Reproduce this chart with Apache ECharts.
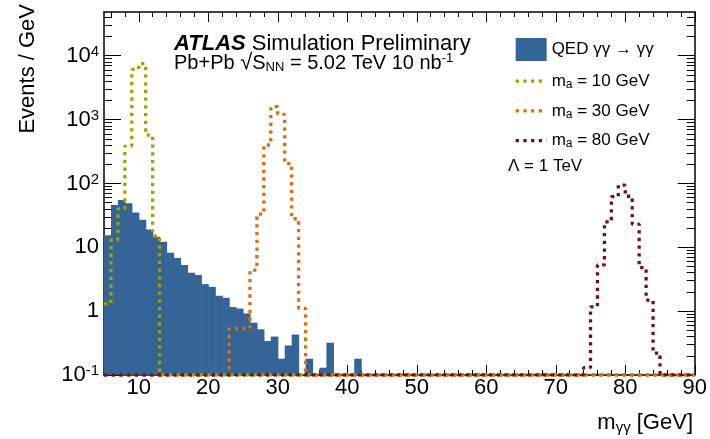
<!DOCTYPE html>
<html>
<head>
<meta charset="utf-8">
<script src="https://cdn.jsdelivr.net/npm/echarts@6/dist/echarts.min.js"></script>
<style>
  html, body { margin: 0; padding: 0; background: #ffffff; }
  #chart { width: 710px; height: 439px; }
</style>
</head>
<body>
<div id="chart"></div>
<script>
// Diphoton invariant mass spectrum, 1 GeV bins between 5 and 90 GeV
const xMin = 5;
const xMax = 90;
const yMin = 0.1;
const yMax = 48400;

// QED light-by-light background, first bin starts at 5 GeV (0 = empty bin)
const qedFirstBin = 5;
const qedCounts = [15.5, 46, 55, 49, 35, 27, 19, 14.6, 12.2, 8.2,
                   6.8, 5.3, 4.0, 3.7, 2.65, 2.4, 1.74, 1.62, 1.16, 1.10,
                   0.92, 0.66, 0.52, 0.34, 0.40, 0.18, 0.29, 0.43, 0, 0.18,
                   0, 0.13, 0.32, 0, 0, 0, 0.18];

// ALP signal samples, Lambda = 1 TeV
const sig10FirstBin = 5;
const sig10Counts = [1.3, 13, 40, 385, 6100, 7500, 570, 15];
const sig30FirstBin = 23;
const sig30Counts = [0.53, 0.53, 0.53, 4.4, 33, 400, 1590, 1210, 205, 28, 1.1];
const sig80FirstBin = 74;
const sig80Counts = [0.13, 1.17, 5.3, 25, 62, 94, 63, 23, 4.8, 1.49, 0.22];

// Axis ticks
const xTickValues = [10, 20, 30, 40, 50, 60, 70, 80, 90];
const yTickValues = [0.1, 1, 10, 100, 1000, 10000];
const yTickLabels = ['10^-1', '1', '10', '10^2', '10^3', '10^4'];

const FONT = 'Liberation Sans, Arial, Helvetica, sans-serif';
const BLUE = '#356597';
const OLIVE = '#a5a200';
const ORANGE = '#de6c08';
const DARKRED = '#7c0c0c';
const DOTS = [3.3, 4.4];

// bar rectangles for the filled histogram: [low edge, high edge, content]
function barData(first, counts) {
  const out = [];
  counts.forEach((c, i) => { if (c > 0) out.push([first + i, first + i + 1, c]); });
  return out;
}

// step outline over the full range; empty bins sit on the axis floor
function stepData(first, counts) {
  const nb = xMax - xMin;
  const full = new Array(nb).fill(0);
  counts.forEach((c, i) => { full[first - xMin + i] = c; });
  const pts = full.map((c, i) => [xMin + i, Math.max(c, yMin)]);
  pts.push([xMax, Math.max(full[nb - 1], yMin)]);
  return pts;
}

const xMinor = [];
for (let v = 6; v < xMax; v += 2) if (v % 10 !== 0) xMinor.push(v);
const yMinor = [];
for (let e = -1; e <= 4; e++) for (let k = 2; k <= 9; k++) {
  const v = k * Math.pow(10, e);
  if (v < yMax) yMinor.push(v);
}

function supRich(s) {
  const m = s.match(/^(.*)\^(.*)$/);
  return m ? '{b|' + m[1] + '}{s|' + m[2] + '}' : '{b|' + s + '}';
}

const tickColor = '#000';
function xAxisDef(pos, major, showLabel) {
  return {
    type: 'value', position: pos, min: xMin, max: xMax,
    axisLine: { show: major, onZero: false, lineStyle: { color: '#000', width: 1.5 } },
    splitLine: { show: false },
    axisTick: { show: true, inside: true, length: major ? 10 : 5,
      customValues: major ? xTickValues : xMinor, lineStyle: { color: tickColor, width: 1 } },
    axisLabel: { show: showLabel, customValues: xTickValues, margin: 2,
      fontFamily: FONT, fontSize: 22, color: '#000' }
  };
}
function yAxisDef(pos, major, showLabel) {
  return {
    type: 'log', logBase: 10, position: pos, min: yMin, max: yMax,
    axisLine: { show: major, onZero: false, lineStyle: { color: '#000', width: 1.5 } },
    splitLine: { show: false },
    axisTick: { show: true, inside: true, length: major ? 17 : 8,
      customValues: major ? yTickValues : yMinor, lineStyle: { color: tickColor, width: 1 } },
    axisLabel: { show: showLabel, customValues: yTickValues, margin: 5,
      formatter: v => supRich(yTickLabels[Math.round(Math.log10(v)) + 1]),
      rich: {
        b: { fontFamily: FONT, fontSize: 22, color: '#000' },
        s: { fontFamily: FONT, fontSize: 15, color: '#000', verticalAlign: 'top', padding: [0, 0, 8, 0] }
      } }
  };
}

const legendRich = {
  t: { fontFamily: FONT, fontSize: 17, color: '#000' },
  sub: { fontFamily: FONT, fontSize: 12, color: '#000', verticalAlign: 'bottom', padding: [7, 0, 0, 0] }
};
const hiddenSymbol = { opacity: 0, borderWidth: 0 };
const legendDots = { width: 3.3, type: DOTS, cap: 'butt' };

const chart = echarts.init(document.getElementById('chart'), null, { renderer: 'canvas' });
chart.setOption({
  animation: false,
  backgroundColor: '#fff',
  grid: { left: 104, top: 12, width: 591, height: 363, containLabel: false },
  xAxis: [
    xAxisDef('bottom', true, true),
    xAxisDef('bottom', false, false),
    xAxisDef('top', true, false),
    xAxisDef('top', false, false)
  ],
  yAxis: [
    yAxisDef('left', true, true),
    yAxisDef('left', false, false),
    yAxisDef('right', true, false),
    yAxisDef('right', false, false)
  ],
  legend: {
    orient: 'vertical', left: 514, top: 38, padding: 0,
    itemWidth: 31, itemHeight: 23, itemGap: 11,
    selectedMode: false,
    data: [
      { name: 'QED γγ → γγ', icon: 'rect' },
      { name: 'm_a = 10 GeV', itemStyle: hiddenSymbol, lineStyle: legendDots },
      { name: 'm_a = 30 GeV', itemStyle: hiddenSymbol, lineStyle: legendDots },
      { name: 'm_a = 80 GeV', itemStyle: hiddenSymbol, lineStyle: legendDots }
    ],
    formatter: name => {
      const m = name.match(/^m_a(.*)$/);
      return m ? '{t|m}{sub|a}{t|' + m[1] + '}' : '{t|' + name + '}';
    },
    textStyle: { fontFamily: FONT, fontSize: 17, color: '#000', rich: legendRich }
  },
  series: [
    {
      name: 'QED γγ → γγ', type: 'custom', z: 1,
      data: barData(qedFirstBin, qedCounts),
      encode: { x: [0, 1], y: 2 },
      itemStyle: { color: BLUE },
      renderItem: (params, api) => {
        const p0 = api.coord([api.value(0), api.value(2)]);
        const p1 = api.coord([api.value(1), yMin]);
        // slight overlap so neighbouring bins fill without hairline seams
        return {
          type: 'rect',
          shape: { x: p0[0], y: p0[1], width: p1[0] - p0[0] + 0.6, height: p1[1] - p0[1] },
          style: { fill: BLUE }
        };
      }
    },
    {
      name: 'm_a = 10 GeV', type: 'line', step: 'end', symbol: 'none', z: 3,
      data: stepData(sig10FirstBin, sig10Counts),
      itemStyle: { color: OLIVE },
      lineStyle: { color: OLIVE, width: 3.3, type: DOTS, cap: 'butt' }
    },
    {
      name: 'm_a = 30 GeV', type: 'line', step: 'end', symbol: 'none', z: 4,
      data: stepData(sig30FirstBin, sig30Counts),
      itemStyle: { color: ORANGE },
      lineStyle: { color: ORANGE, width: 3.3, type: DOTS, cap: 'butt' }
    },
    {
      name: 'm_a = 80 GeV', type: 'line', step: 'end', symbol: 'none', z: 5,
      data: stepData(sig80FirstBin, sig80Counts),
      itemStyle: { color: DARKRED },
      lineStyle: { color: DARKRED, width: 3.3, type: DOTS, cap: 'butt' }
    }
  ],
  graphic: [
    {
      type: 'text', x: 28, y: 4, rotation: Math.PI / 2,
      style: { text: 'Events / GeV', fontFamily: FONT, fontSize: 22, fill: '#000',
        align: 'right', verticalAlign: 'middle' }
    },
    {
      type: 'text', x: 693, y: 423,
      style: {
        text: '{b|m}{sub|γγ}{b| [GeV]}', align: 'right', verticalAlign: 'middle',
        rich: {
          b: { fontFamily: FONT, fontSize: 22, fill: '#000' },
          sub: { fontFamily: FONT, fontSize: 15, fill: '#000', verticalAlign: 'bottom', padding: [9, 0, 0, 0] }
        }
      }
    },
    {
      type: 'text', x: 174, y: 44,
      style: {
        text: '{a|ATLAS}{b| Simulation Preliminary}', verticalAlign: 'middle',
        rich: {
          a: { fontFamily: FONT, fontSize: 22, fontWeight: 'bold', fontStyle: 'italic', fill: '#000' },
          b: { fontFamily: FONT, fontSize: 22, fill: '#000' }
        }
      }
    },
    {
      type: 'text', x: 174, y: 63,
      style: {
        text: '{b|Pb+Pb }{r|√}{b|S}{sub|NN}{b| = 5.02 TeV 10 nb}{sup|-1}', verticalAlign: 'middle',
        rich: {
          b: { fontFamily: FONT, fontSize: 20, fill: '#000' },
          r: { fontFamily: FONT, fontSize: 22, fill: '#000' },
          sub: { fontFamily: FONT, fontSize: 13, fill: '#000', verticalAlign: 'bottom', padding: [8, 0, 0, 0] },
          sup: { fontFamily: FONT, fontSize: 13, fill: '#000', verticalAlign: 'top', padding: [0, 0, 8, 0] }
        }
      }
    },
    {
      type: 'text', x: 508, y: 166,
      style: { text: 'Λ = 1 TeV', fontFamily: FONT, fontSize: 17, fill: '#000', verticalAlign: 'middle' }
    }
  ]
});
</script>
</body>
</html>
